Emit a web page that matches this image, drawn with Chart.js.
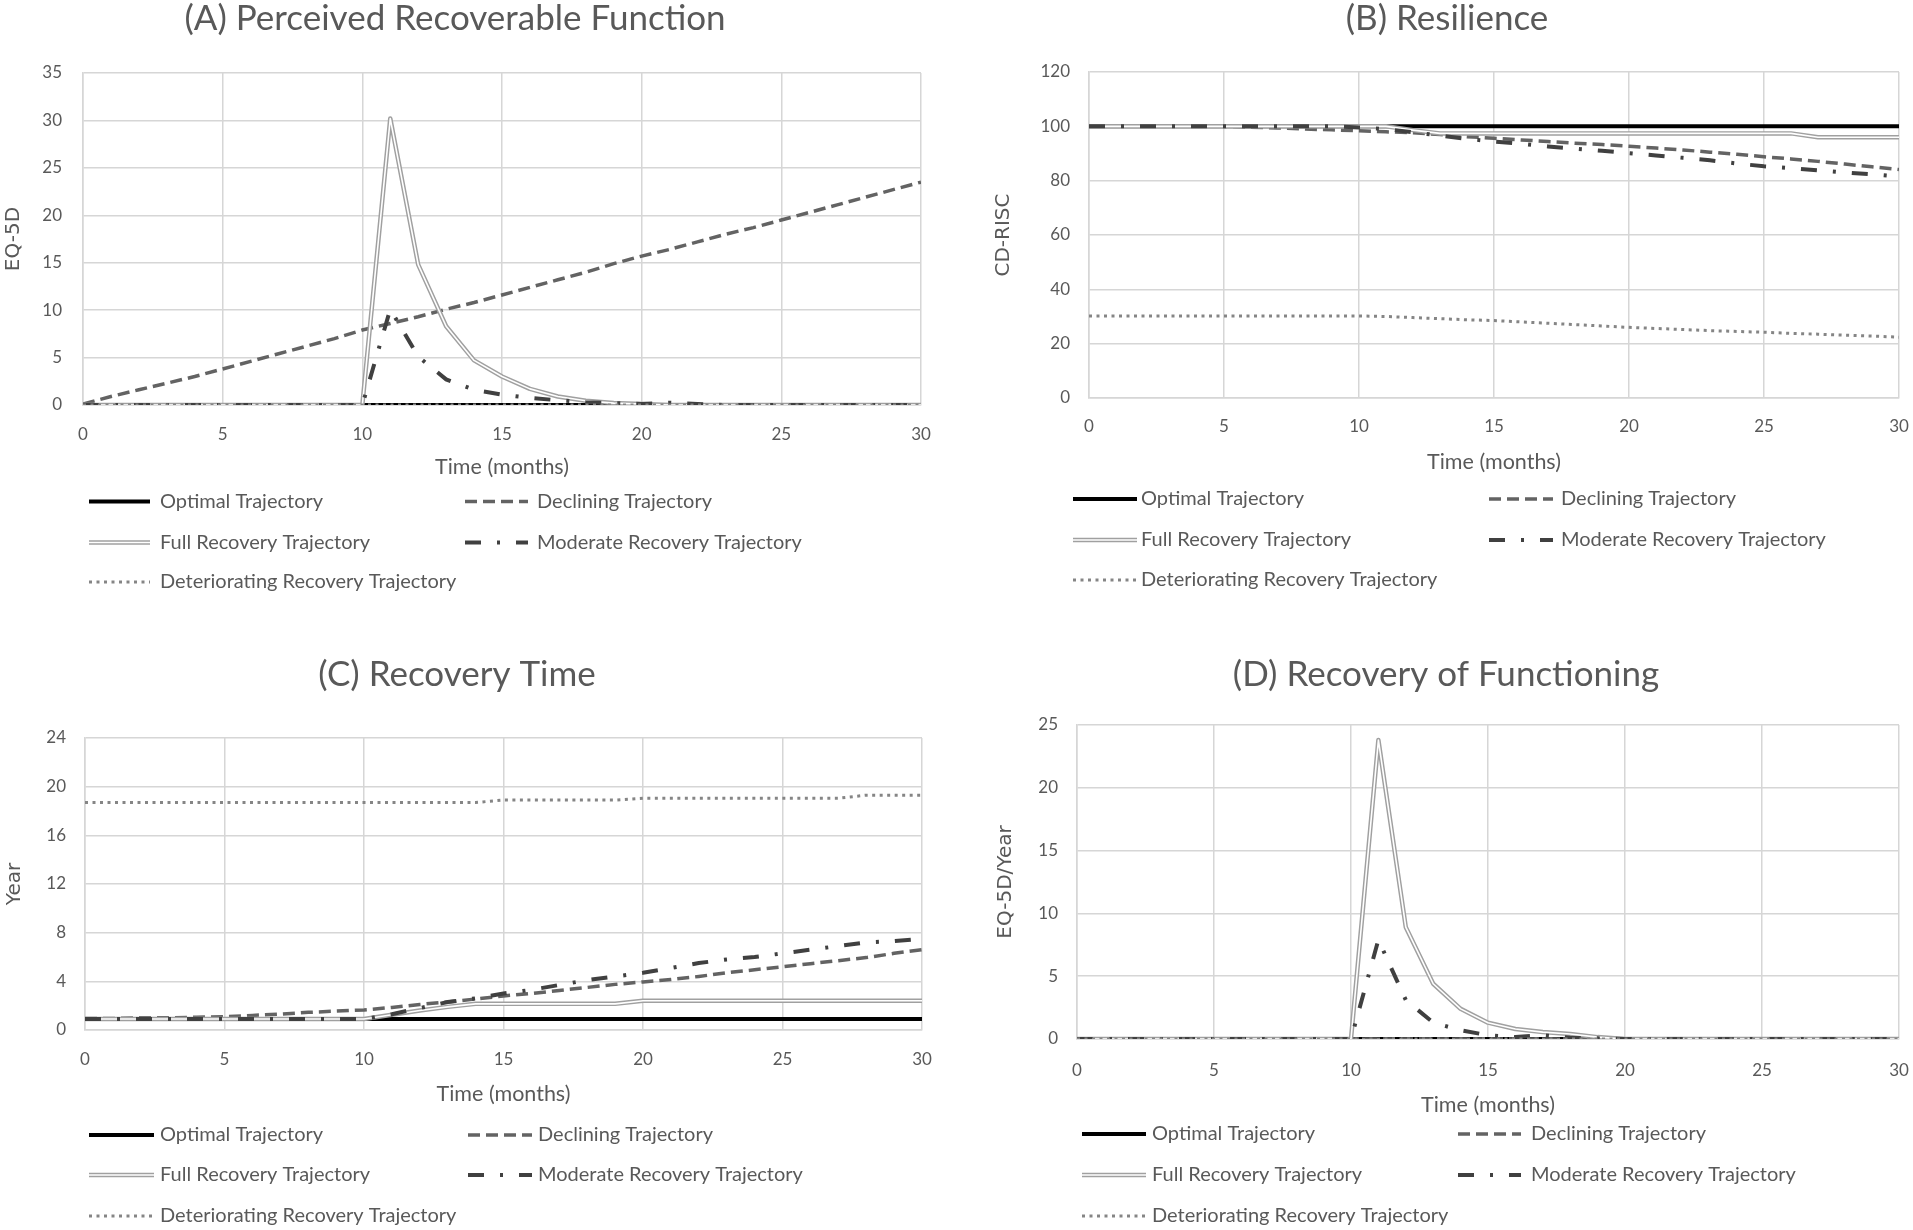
<!DOCTYPE html>
<html>
<head>
<meta charset="utf-8">
<script src="https://cdn.jsdelivr.net/npm/chart.js@4.4.1/dist/chart.umd.min.js"></script>
<style>
  html, body { margin: 0; padding: 0; background: #fff; }
  body { width: 1913px; height: 1230px; position: relative; overflow: hidden; }
  .panel { position: absolute; }
</style>
</head>
<body>
<div class="panel" style="left:0;top:0;width:956px;height:615px"><canvas id="chart-a"></canvas></div>
<div class="panel" style="left:956px;top:0;width:957px;height:615px"><canvas id="chart-b"></canvas></div>
<div class="panel" style="left:0;top:615px;width:956px;height:615px"><canvas id="chart-c"></canvas></div>
<div class="panel" style="left:956px;top:615px;width:957px;height:615px"><canvas id="chart-d"></canvas></div>
<script>
// time axis (months)
const months = [0, 1, 2, 3, 4, 5, 6, 7, 8, 9, 10, 11, 12, 13, 14, 15, 16, 17, 18, 19, 20, 21, 22, 23, 24, 25, 26, 27, 28, 29, 30];
const seriesNames = ['Optimal Trajectory', 'Declining Trajectory', 'Full Recovery Trajectory', 'Moderate Recovery Trajectory', 'Deteriorating Recovery Trajectory'];

// (A) Perceived Recoverable Function, EQ-5D
const aOptimal = [0, 0, 0, 0, 0, 0, 0, 0, 0, 0, 0, 0, 0, 0, 0, 0, 0, 0, 0, 0, 0, 0, 0, 0, 0, 0, 0, 0, 0, 0, 0];
const aDeclining = [0.1, 0.9, 1.6, 2.3, 3.0, 3.8, 4.6, 5.4, 6.2, 7.0, 7.9, 8.6, 9.3, 10.1, 10.8, 11.6, 12.4, 13.2, 14.0, 14.9, 15.7, 16.4, 17.2, 18.0, 18.7, 19.5, 20.3, 21.1, 21.9, 22.7, 23.5];
const aFull = [0, 0, 0, 0, 0, 0, 0, 0, 0, 0, 0, 30.2, 14.8, 8.3, 4.7, 3.0, 1.7, 0.9, 0.45, 0.2, 0.1, 0, 0, 0, 0, 0, 0, 0, 0, 0, 0];
const aModerate = [0, 0, 0, 0, 0, 0, 0, 0, 0, 0, 0, 10.1, 5.1, 2.7, 1.6, 1.1, 0.75, 0.5, 0.3, 0.2, 0.1, 0.25, 0.1, 0, 0, 0, 0, 0, 0, 0, 0];
const aDeteriorating = [0, 0, 0, 0, 0, 0, 0, 0, 0, 0, 0, 0, 0, 0, 0, 0, 0, 0, 0, 0, 0, 0, 0, 0, 0, 0, 0, 0, 0, 0, 0];

// (B) Resilience, CD-RISC
const bOptimal = [100, 100, 100, 100, 100, 100, 100, 100, 100, 100, 100, 100, 100, 100, 100, 100, 100, 100, 100, 100, 100, 100, 100, 100, 100, 100, 100, 100, 100, 100, 100];
const bDeclining = [100, 100, 100, 100, 100, 100, 99.7, 99.4, 99.0, 98.7, 98.4, 98.0, 97.6, 97.0, 96.2, 95.6, 95.0, 94.4, 93.8, 93.3, 92.7, 92.0, 91.3, 90.5, 89.7, 88.8, 88.0, 87.1, 86.1, 85.1, 84.1];
const bFull = [100, 100, 100, 100, 100, 100, 100, 100, 100, 100, 100, 100, 98.6, 97.4, 97.4, 97.4, 97.4, 97.4, 97.4, 97.4, 97.4, 97.4, 97.4, 97.4, 97.4, 97.4, 97.4, 96.0, 96.0, 96.0, 96.0];
const bModerate = [100, 100, 100, 100, 100, 100, 100, 100, 100, 100, 99.6, 99.0, 97.8, 96.6, 95.4, 94.4, 93.6, 92.6, 91.8, 91.0, 90.1, 89.3, 88.4, 87.5, 86.3, 85.3, 84.6, 83.8, 83.0, 82.3, 81.5];
const bDeteriorating = [30.2, 30.2, 30.2, 30.2, 30.2, 30.2, 30.2, 30.2, 30.2, 30.2, 30.2, 30.0, 29.6, 29.2, 28.8, 28.5, 28.0, 27.5, 27.0, 26.5, 26.0, 25.6, 25.2, 24.8, 24.5, 24.2, 23.8, 23.5, 23.1, 22.8, 22.4];

// (C) Recovery Time, years
const cOptimal = [0.9, 0.9, 0.9, 0.9, 0.9, 0.9, 0.9, 0.9, 0.9, 0.9, 0.9, 0.9, 0.9, 0.9, 0.9, 0.9, 0.9, 0.9, 0.9, 0.9, 0.9, 0.9, 0.9, 0.9, 0.9, 0.9, 0.9, 0.9, 0.9, 0.9, 0.9];
const cDeclining = [0.95, 0.95, 1.0, 1.0, 1.05, 1.1, 1.2, 1.3, 1.45, 1.55, 1.65, 1.85, 2.1, 2.3, 2.55, 2.8, 3.0, 3.25, 3.5, 3.75, 3.95, 4.15, 4.4, 4.7, 4.95, 5.2, 5.45, 5.7, 5.95, 6.3, 6.6];
const cFull = [0.9, 0.9, 0.9, 0.9, 0.9, 0.9, 0.9, 0.9, 0.9, 0.9, 0.9, 1.25, 1.6, 1.9, 2.15, 2.15, 2.15, 2.15, 2.15, 2.15, 2.4, 2.4, 2.4, 2.4, 2.4, 2.4, 2.4, 2.4, 2.4, 2.4, 2.4];
const cModerate = [0.9, 0.9, 0.9, 0.9, 0.9, 0.9, 0.9, 0.9, 0.9, 0.9, 0.9, 1.3, 1.8, 2.3, 2.6, 3.0, 3.3, 3.7, 4.1, 4.4, 4.7, 5.1, 5.5, 5.8, 6.0, 6.3, 6.6, 6.9, 7.2, 7.3, 7.5];
const cDeteriorating = [18.7, 18.7, 18.7, 18.7, 18.7, 18.7, 18.7, 18.7, 18.7, 18.7, 18.7, 18.7, 18.7, 18.7, 18.7, 18.9, 18.9, 18.9, 18.9, 18.9, 19.05, 19.05, 19.05, 19.05, 19.05, 19.05, 19.05, 19.05, 19.3, 19.3, 19.3];

// (D) Recovery of Functioning, EQ-5D/Year
const dOptimal = [0, 0, 0, 0, 0, 0, 0, 0, 0, 0, 0, 0, 0, 0, 0, 0, 0, 0, 0, 0, 0, 0, 0, 0, 0, 0, 0, 0, 0, 0, 0];
const dDeclining = [0, 0, 0, 0, 0, 0, 0, 0, 0, 0, 0, 0, 0, 0, 0, 0, 0, 0, 0, 0, 0, 0, 0, 0, 0, 0, 0, 0, 0, 0, 0];
const dFull = [0, 0, 0, 0, 0, 0, 0, 0, 0, 0, 0, 23.8, 8.9, 4.4, 2.4, 1.3, 0.8, 0.55, 0.4, 0.15, 0, 0, 0, 0, 0, 0, 0, 0, 0, 0, 0];
const dModerate = [0, 0, 0, 0, 0, 0, 0, 0, 0, 0, 0, 7.9, 3.1, 1.3, 0.7, 0.3, 0.15, 0.3, 0.1, 0.05, 0, 0, 0, 0, 0, 0, 0, 0, 0, 0, 0];
const dDeteriorating = [0, 0, 0, 0, 0, 0, 0, 0, 0, 0, 0, 0, 0, 0, 0, 0, 0, 0, 0, 0, 0, 0, 0, 0, 0, 0, 0, 0, 0, 0, 0];

const textGrey = '#595959';
const gridGrey = '#d6d6d6';

Chart.defaults.font.family = 'Lato';
Chart.defaults.color = textGrey;

function toPoints(values) {
  return months.map(function (m, i) { return { x: m, y: values[i] }; });
}

function makeDatasets(optimal, declining, full, moderate, deteriorating) {
  return [
    { label: seriesNames[0], data: toPoints(optimal), borderColor: '#000000', borderWidth: 4, order: 6 },
    { label: seriesNames[1], data: toPoints(declining), borderColor: '#636363', borderWidth: 3.5, borderDash: [12, 6], order: 5 },
    { label: seriesNames[2], data: toPoints(full), borderColor: '#a0a0a0', borderWidth: 4.5, borderJoinStyle: 'round', order: 4, doubled: true },
    // white core that makes the full recovery line look doubled
    { label: '', data: toPoints(full), borderColor: '#ffffff', borderWidth: 1.6, borderJoinStyle: 'round', order: 3 },
    { label: seriesNames[3], data: toPoints(moderate), borderColor: '#404040', borderWidth: 4, borderDash: [16, 16, 3, 16], order: 2 },
    { label: seriesNames[4], data: toPoints(deteriorating), borderColor: '#858585', borderWidth: 3, borderDash: [3, 4.5], order: 1 }
  ];
}

// title + two-column legend drawn straight on the canvas
const panelDecor = {
  id: 'panelDecor',
  afterDraw: function (chart, args, opts) {
    const ctx = chart.ctx;
    ctx.save();
    ctx.fillStyle = textGrey;
    ctx.textBaseline = 'middle';
    ctx.textAlign = 'center';
    ctx.font = '35px Lato';
    ctx.fillText(opts.title, opts.titleX, opts.titleY);

    ctx.font = '20px Lato';
    ctx.textAlign = 'left';
    const items = chart.data.datasets.filter(function (d) { return d.label; });
    items.forEach(function (d, i) {
      const col = i % 2 === 0 ? opts.col1 : opts.col2;
      const y = opts.rows[Math.floor(i / 2)];
      ctx.save();
      ctx.strokeStyle = d.borderColor;
      ctx.lineWidth = d.borderWidth;
      ctx.setLineDash(d.borderDash || []);
      ctx.beginPath();
      ctx.moveTo(col[0], y);
      ctx.lineTo(col[1], y);
      ctx.stroke();
      if (d.doubled) {
        ctx.strokeStyle = '#ffffff';
        ctx.lineWidth = 1.6;
        ctx.beginPath();
        ctx.moveTo(col[0], y);
        ctx.lineTo(col[1], y);
        ctx.stroke();
      }
      ctx.restore();
      ctx.fillText(d.label, col[2], y);
    });
    ctx.restore();
  }
};

function renderPanel(id, datasets, yMax, yStep, yTitle, geo) {
  return new Chart(document.getElementById(id), {
    type: 'line',
    data: { datasets: datasets },
    plugins: [panelDecor],
    options: {
      responsive: true,
      maintainAspectRatio: false,
      animation: false,
      devicePixelRatio: 1,
      layout: { padding: geo.padding },
      elements: {
        point: { radius: 0, hoverRadius: 0 },
        line: { tension: 0, fill: false }
      },
      scales: {
        x: {
          type: 'linear',
          min: 0,
          max: 30,
          ticks: { stepSize: 5, padding: geo.xTickPad, color: textGrey, font: { family: 'Lato', size: 17 }, maxRotation: 0 },
          grid: { color: gridGrey, lineWidth: 1.5, drawTicks: false },
          border: { color: gridGrey, width: 1.5 },
          title: { display: true, text: 'Time (months)', color: textGrey, font: { family: 'Lato', size: 21.5 }, padding: 0 },
          afterFit: function (scale) {
            scale.height = geo.xHeight;
            scale.paddingLeft = 0;
            scale.paddingRight = 0;
          }
        },
        y: {
          min: 0,
          max: yMax,
          ticks: { stepSize: yStep, padding: geo.yTickPad, color: textGrey, font: { family: 'Lato', size: 17 } },
          grid: { color: gridGrey, lineWidth: 1.5, drawTicks: false },
          border: { color: gridGrey, width: 1.5 },
          title: { display: true, text: yTitle, color: textGrey, font: { family: 'DejaVu Sans', size: 20 }, padding: { top: geo.yTitlePad, bottom: 0 } },
          afterFit: function (scale) {
            scale.width = geo.yWidth;
            scale.paddingTop = 0;
            scale.paddingBottom = 0;
          }
        }
      },
      plugins: {
        legend: { display: false },
        tooltip: { enabled: false },
        panelDecor: geo.decor
      }
    }
  });
}

renderPanel('chart-a', makeDatasets(aOptimal, aDeclining, aFull, aModerate, aDeteriorating), 35, 5, 'EQ-5D', {
  padding: { left: 0, right: 35, top: 73, bottom: 135 },
  yWidth: 83, yTickPad: 21, yTitlePad: 2, xHeight: 75, xTickPad: 19,
  decor: { title: '(A) Perceived Recoverable Function', titleX: 455, titleY: 19,
    col1: [89, 150, 160], col2: [465, 528, 537], rows: [501.5, 542.5, 582] }
});

renderPanel('chart-b', makeDatasets(bOptimal, bDeclining, bFull, bModerate, bDeteriorating), 120, 20, 'CD-RISC', {
  padding: { left: 0, right: 14, top: 72, bottom: 140 },
  yWidth: 133, yTickPad: 19, yTitlePad: 36, xHeight: 77, xTickPad: 18,
  decor: { title: '(B) Resilience', titleX: 491, titleY: 19,
    col1: [117, 181, 185], col2: [533, 597, 605], rows: [499, 540, 580] }
});

renderPanel('chart-c', makeDatasets(cOptimal, cDeclining, cFull, cModerate, cDeteriorating), 24, 4, 'Year', {
  padding: { left: 0, right: 34, top: 123, bottom: 123 },
  yWidth: 85, yTickPad: 19, yTitlePad: 3, xHeight: 77, xTickPad: 19,
  decor: { title: '(C) Recovery Time', titleX: 457, titleY: 60,
    col1: [89, 154, 160], col2: [468, 532, 538], rows: [520, 560, 601] }
});

renderPanel('chart-d', makeDatasets(dOptimal, dDeclining, dFull, dModerate, dDeteriorating), 25, 5, 'EQ-5D/Year', {
  padding: { left: 0, right: 14, top: 110, bottom: 112 },
  yWidth: 121, yTickPad: 19, yTitlePad: 38, xHeight: 79, xTickPad: 21,
  decor: { title: '(D) Recovery of Functioning', titleX: 490, titleY: 60,
    col1: [126, 190, 196], col2: [502, 565, 575], rows: [519, 560, 601] }
});
</script>
</body>
</html>
